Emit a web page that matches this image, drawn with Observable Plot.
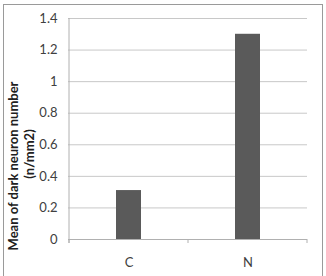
<!DOCTYPE html>
<html><head><meta charset="utf-8">
<script src="https://cdn.jsdelivr.net/npm/d3@7"></script>
<script src="https://cdn.jsdelivr.net/npm/@observablehq/plot@0.6"></script>
<style>
body{margin:0;background:#fff;}
#wrap{position:relative;width:326px;height:276px;overflow:hidden;}
#frame{position:absolute;left:3px;top:4px;width:318px;height:290px;border:1px solid #9a9a9a;pointer-events:none;}
svg{font-family:Lato,"Open Sans",sans-serif;}
</style></head>
<body><div id="wrap"><div id="frame"></div></div>
<script>
const categories = ["C", "N"];
const values = [0.31, 1.3];
const yTicks = [0, 0.2, 0.4, 0.6, 0.8, 1, 1.2, 1.4];
const yLabelLines = ["Mean of dark neuron number", "(n/mm2)"];

const data = categories.map((c, i) => ({cat: c, val: values[i]}));

const chart = Plot.plot({
  width: 326, height: 276,
  marginLeft: 68, marginRight: 19, marginTop: 18, marginBottom: 37,
  style: {fontFamily: "Lato, 'Open Sans', sans-serif", background: "transparent"},
  x: {domain: categories, paddingInner: 0.79, paddingOuter: 0.395, label: null},
  y: {domain: [0, 1.4], label: null},
  marks: [
    Plot.ruleY(yTicks, {stroke: "#c8c8c8", strokeWidth: 1}),
    Plot.barY(data, {x: "cat", y: "val", fill: "#5a5a5a"}),
    Plot.ruleY([0], {stroke: "#b0b0b0"}),
    Plot.axisY({ticks: yTicks, tickSize: 0, tickPadding: 11, fontSize: 13, fill: "#404040",
      tickFormat: d => String(+d.toFixed(1)), label: null}),
    Plot.axisX({tickSize: 0, tickPadding: 18, fontSize: 13, fill: "#404040", label: null})
  ]
});
document.getElementById("wrap").prepend(chart);

// separator ticks at category boundaries, derived from the x scale
const xs = chart.scale("x");
const ys = chart.scale("y");
const step = xs.step, bw = xs.bandwidth;
const y0 = ys.apply(0);
const svg = d3.select(chart);
const bounds = [];
categories.forEach((c, i) => { const left = xs.apply(c) - (step - bw) / 2; bounds.push(left); if (i === categories.length - 1) bounds.push(left + step); });
svg.append("g").selectAll("line").data(bounds).join("line")
  .attr("x1", d => d).attr("x2", d => d).attr("y1", y0).attr("y2", y0 + 4)
  .attr("stroke", "#b0b0b0");
// left axis line
svg.append("line").attr("x1", bounds[0]).attr("x2", bounds[0])
  .attr("y1", ys.apply(1.4)).attr("y2", y0 + 4).attr("stroke", "#b0b0b0");

// y-axis title (two lines)
const tg = svg.append("g").attr("font-weight", "bold").attr("font-size", 13).attr("fill", "#202020")
  .attr("text-anchor", "middle").attr("font-family", "Lato, 'Open Sans', sans-serif");
tg.append("text").attr("transform", "translate(18,166) rotate(-90)").text(yLabelLines[0]);
tg.append("text").attr("transform", "translate(34,154) rotate(-90)").text(yLabelLines[1]);
</script>
</body></html>
